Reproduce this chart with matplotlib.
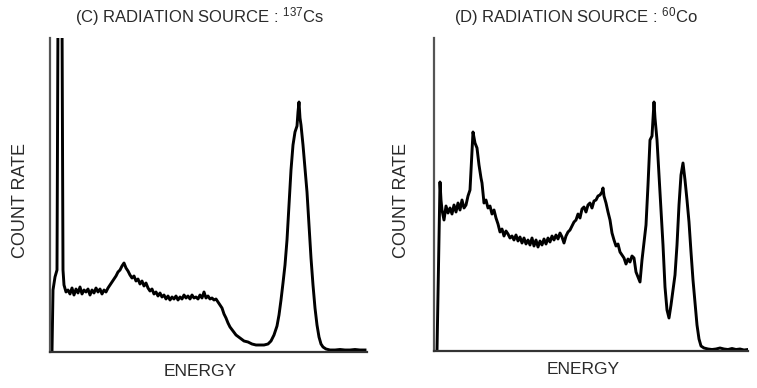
import matplotlib
matplotlib.use("Agg")
import matplotlib.pyplot as plt
import numpy as np

plt.rcParams['font.family'] = ['Liberation Sans', 'DejaVu Sans']
plt.rcParams['mathtext.fontset'] = 'custom'
plt.rcParams['mathtext.rm'] = 'Liberation Sans'

# (C) Cs-137 spectrum: channel vs count rate (arbitrary units)
cs_energy = [2, 3, 5, 7, 8, 12, 13, 14,
             16, 18, 20, 22, 24, 26, 28, 30, 32, 34, 36, 38, 40, 42, 44, 46, 48, 50,
             52, 54, 56, 58, 60, 62, 64, 66, 68, 70, 72, 74, 76, 78, 80, 82, 84, 86,
             88, 90, 92, 94, 96, 98, 100, 102, 104, 106, 108, 110, 112, 114, 116, 118,
             120, 122, 124, 126, 128, 130, 132, 134, 136, 138, 140, 142, 144, 146, 148,
             150, 152, 154, 156, 158, 160, 162, 164, 166, 168, 170, 172, 174, 176, 178,
             180, 183, 186, 190, 194, 198, 202, 206, 210, 214, 218, 221, 224, 227, 229,
             231, 233, 235, 237, 239, 241, 243, 245, 247, 248, 249, 250, 251, 253, 255,
             257, 259, 261, 263, 265, 267, 269, 271, 273, 276, 280, 285, 290, 295, 300,
             305, 310, 315]
cs_counts = [0, 62, 75, 82, 340, 340, 82, 67,
             60, 62, 58, 64, 57, 63, 59, 65, 58, 62, 60, 63, 57, 62, 59, 64, 60, 63,
             58, 62, 60, 64, 67, 70, 73, 76, 80, 82, 86, 89, 84, 81, 77, 74, 76, 71,
             73, 68, 71, 66, 69, 64, 61, 63, 58, 60, 56, 59, 55, 57, 53, 56,
             52, 55, 53, 56, 52, 55, 53, 57, 54, 56, 53, 57, 54, 55, 53,
             57, 54, 60, 54, 56, 53, 54, 52, 53, 50, 47, 44, 38, 34, 29,
             25, 21, 17, 14, 11, 10, 8, 7, 7, 7, 8, 11, 17, 26, 37,
             52, 69, 87, 112, 147, 182, 207, 220, 226, 240, 250, 234, 227, 207, 184,
             160, 127, 94, 67, 44, 27, 15, 8, 5, 3, 2, 2, 2.5, 2, 2,
             2.5, 2, 2]

# (D) Co-60 spectrum
co_energy = [3, 6, 7, 8, 10, 12, 14, 16, 18, 20, 22, 24, 26, 28, 30, 32, 34, 36, 38,
             39, 41, 43, 45, 47, 48, 50, 52, 54, 56, 58, 60, 62, 64, 66, 68, 70, 72,
             74, 76, 78, 80, 82, 84, 86, 88, 90, 92, 94, 96, 98, 100, 102, 104, 106,
             108, 110, 112, 114, 116, 118, 120, 122, 124, 126, 128, 130, 132, 134, 136,
             138, 140, 142, 144, 146, 148, 150, 152, 154, 156, 158, 160, 162, 164, 166,
             168, 169, 170, 172, 174, 176, 178, 180, 182, 184, 186, 188, 190, 192, 194,
             196, 198, 200, 202, 204, 206, 208, 210, 212, 214, 216, 218, 220, 221, 223,
             225, 227, 229, 231, 233, 235, 237, 239, 241, 243, 245, 247, 249, 251, 253,
             255, 257, 259, 261, 263, 265, 267, 270, 274, 278, 282, 286, 290, 294, 298,
             302, 306, 310, 314]
co_counts = [0, 169, 151, 141, 131, 145, 138, 143, 137, 146, 139, 148, 141, 151, 143,
             146, 155, 161, 201, 219, 208, 203, 186, 173, 168, 148, 151, 143, 145, 137,
             141, 133, 127, 119, 122, 115, 120, 117, 113, 115, 111, 116, 110, 114, 108,
             113, 107, 111, 106, 113, 105, 111, 104, 110, 106, 112, 107, 113, 109, 115,
             111, 116, 112, 118, 114, 108, 115, 119, 121, 125, 129, 131, 137, 133, 142,
             144, 139, 146, 148, 143, 150, 151, 155, 156, 159, 163, 155, 148, 139, 131,
             118, 111, 105, 107, 99, 96, 93, 87, 92, 89, 95, 93, 79, 74, 69, 91, 109,
             126, 166, 211, 215, 249, 233, 211, 176, 141, 106, 64, 41, 33, 46, 61, 76,
             106, 146, 176, 188, 171, 151, 129, 99, 71, 48, 26, 12, 5, 3, 2, 1.5, 2, 3,
             2, 1.5, 2.5, 1.5, 2, 1, 1.5]

fig = plt.figure(figsize=(7.57, 3.88), dpi=100)
W, H = 757, 388

panels = [
    (cs_energy, cs_counts, 50, 317, 352, 314),
    (co_energy, co_counts, 434, 314, 351, 313),
]
for energy, counts, left, width, bottom, height in panels:
    ax = fig.add_axes([left / W, (H - bottom) / H, width / W, height / H])
    ax.plot(energy, counts, color='black', linewidth=2.1)
    ax.set_xlim(0, width)
    ax.set_ylim(0, height)
    ax.spines['top'].set_visible(False)
    ax.spines['right'].set_visible(False)
    ax.spines['left'].set_color('#555555')
    ax.spines['bottom'].set_color('#333333')
    ax.spines['left'].set_linewidth(1.6)
    ax.spines['bottom'].set_linewidth(1.6)
    ax.set_xticks([])
    ax.set_yticks([])

txt = dict(color='#2a2a2a', ha='center', va='center')
fig.text(200 / W, 1 - 17 / H, r'(C) RADIATION SOURCE : $\mathregular{^{137}}$Cs', fontsize=12, **txt)
fig.text(576 / W, 1 - 17 / H, r'(D) RADIATION SOURCE : $\mathregular{^{60}}$Co', fontsize=12, **txt)
fig.text(21 / W, 1 - 200 / H, 'COUNT RATE', fontsize=13, rotation=90, **txt)
fig.text(401 / W, 1 - 200 / H, 'COUNT RATE', fontsize=13, rotation=90, **txt)
fig.text(200 / W, 1 - 371 / H, 'ENERGY', fontsize=12.5, **txt)
fig.text(583 / W, 1 - 370 / H, 'ENERGY', fontsize=12.5, **txt)

fig.savefig('out.png', dpi=100)
